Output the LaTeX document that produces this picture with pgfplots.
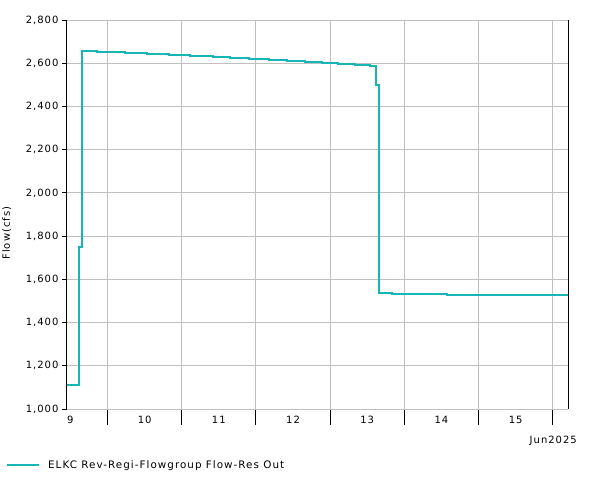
\documentclass[border=0pt]{standalone}
\usepackage{fontspec}
\setmainfont{DejaVu Sans}[LetterSpace=10]
\usepackage{pgfplots}
\pgfplotsset{compat=1.18}

\definecolor{flowteal}{RGB}{22,182,182}
\definecolor{gridgray}{RGB}{192,192,192}

\begin{document}
\begin{tikzpicture}
\useasboundingbox (-67pt,-71pt) rectangle (534pt,409pt);
\begin{axis}[
    at={(0pt,0pt)}, anchor=south west,
    width=501pt, height=389pt,
    scale only axis,
    font=\fontsize{10pt}{12pt}\selectfont,
    xmin=9.454, xmax=16.206,
    ymin=1000, ymax=2800,
    axis x line*=bottom,
    axis y line*=left,
    axis line style={line width=1pt, black, -},
    tick style={draw=black, line width=1pt},
    tick align=outside,
    major tick length=16pt,
    % day boundaries: long ticks and grid
    xtick={10,11,...,16},
    xticklabels={},
    xmajorgrids=true,
    % day names sit in the middle of each day
    extra x ticks={9.5,10.5,...,15.5},
    extra x tick labels={9,10,11,12,13,14,15},
    extra x tick style={grid=none, major tick length=0pt,
        xticklabel style={yshift=-4pt}},
    ytick=\empty,
    extra y ticks={1000,1200,...,2800},
    extra y tick style={grid=major, major tick length=5pt},
    grid style={gridgray, line width=1pt},
    /pgf/number format/1000 sep={,},
    /pgf/number format/assume math mode=true,
    ylabel={Flow(cfs)},
    ylabel style={at={(axis description cs:-0.1297,0.452)}, anchor=north, inner sep=0pt},
    legend style={draw=none, fill=none, inner sep=0pt,
        at={(axis description cs:-0.1218,-0.144)}, anchor=west,
        legend cell align=left, font=\fontsize{10.35pt}{12pt}\selectfont},
    legend image code/.code={\draw[#1, line width=2pt] (0pt,0pt) -- (32pt,0pt); \path (38pt,0pt);},
    clip=false,
]
\addplot[const plot, flowteal, line width=2pt] coordinates {
    (9.454,1110)
    (9.616,1750)
    (9.660,2655)
    (9.863,2650)
    (10.236,2646)
    (10.536,2641)
    (10.833,2637)
    (11.112,2632)
    (11.418,2628)
    (11.651,2623)
    (11.911,2619)
    (12.181,2614)
    (12.415,2609)
    (12.662,2605)
    (12.887,2600)
    (13.111,2596)
    (13.336,2591)
    (13.538,2587)
    (13.619,2499)
    (13.663,1535)
    (13.830,1531)
    (14.580,1526)
    (16.206,1526)
};
\addlegendentry{ELKC Rev-Regi-Flowgroup Flow-Res Out}
\draw[black, line width=1pt] (rel axis cs:1,0) -- (rel axis cs:1,1);
\node[anchor=east, inner sep=0pt, xshift=9pt, yshift=-32pt] at (rel axis cs:1,0) {Jun2025};
\end{axis}
\end{tikzpicture}
\end{document}
